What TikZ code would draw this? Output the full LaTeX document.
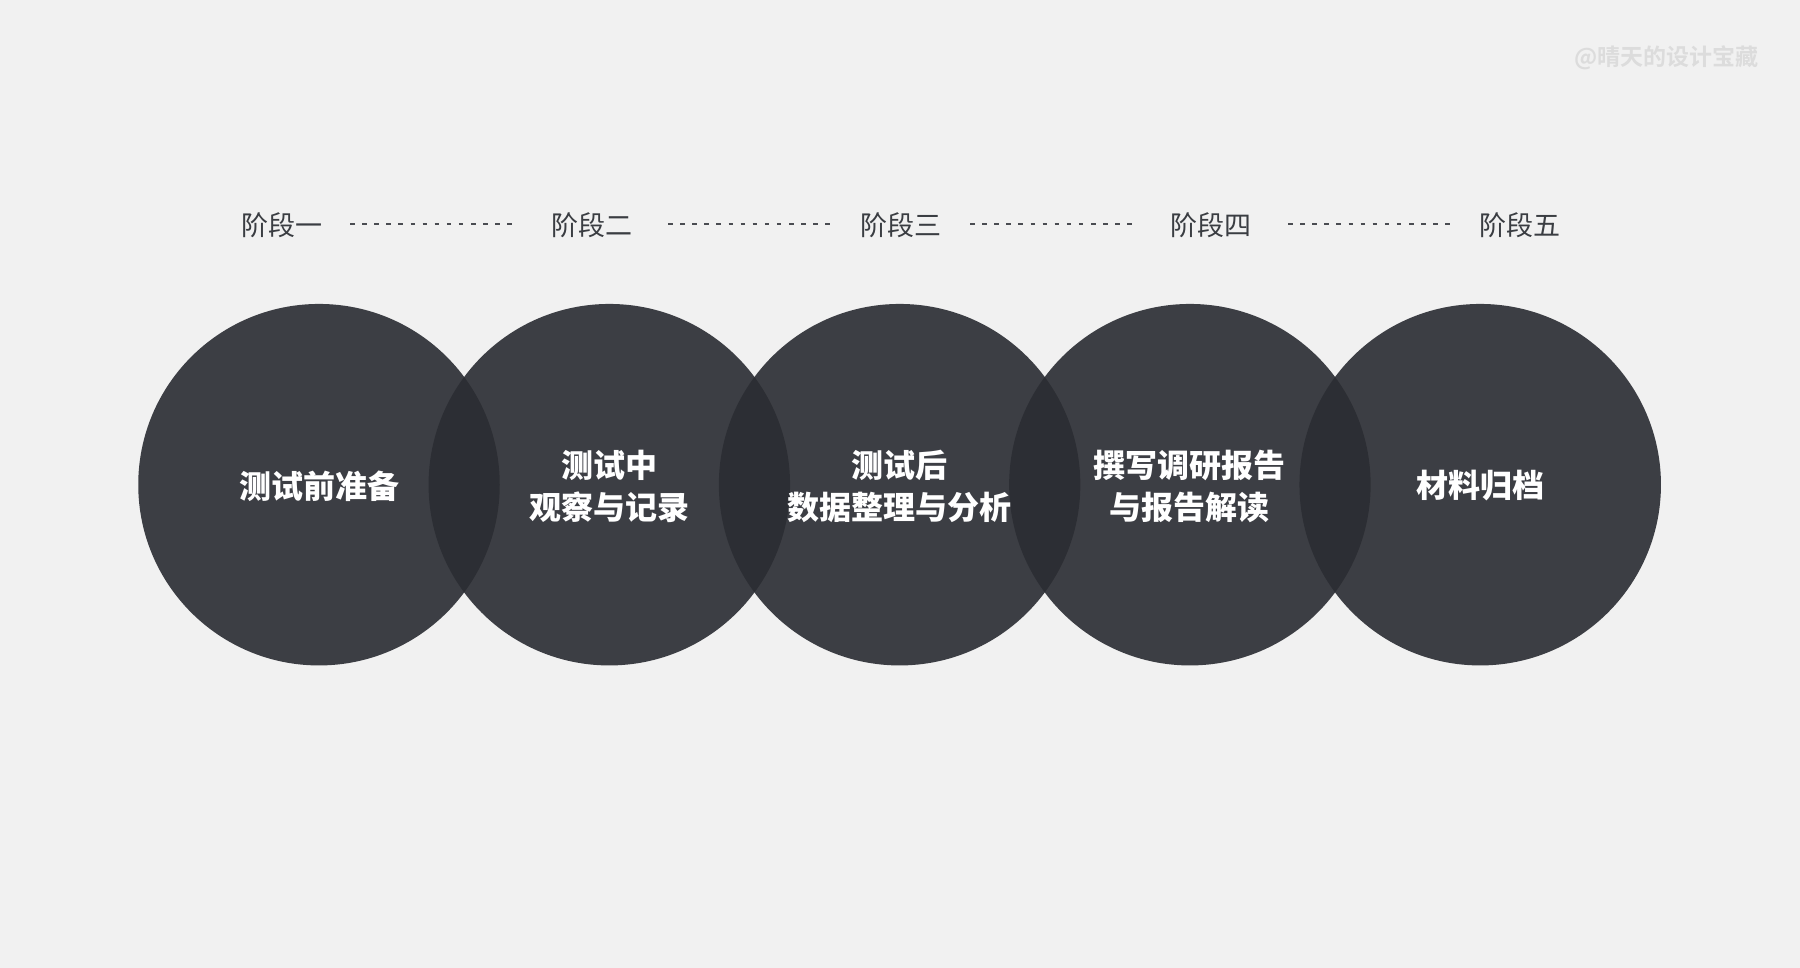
\documentclass[tikz,border=0pt]{standalone}
\usepackage{fontspec}
\IfFontExistsTF{Noto Sans CJK SC Black}
  {\newfontfamily\heavycjk{Noto Sans CJK SC Black}}
  {\newfontfamily\heavycjk{Noto Sans CJK SC}[UprightFont=*,UprightFeatures={FakeBold=2}]}
\newfontfamily\cjk{Noto Sans CJK SC}
\newfontfamily\cjkbold{Noto Sans CJK SC Bold}
\definecolor{bgc}{HTML}{F1F1F1}
\definecolor{circc}{HTML}{2B2D33}
\definecolor{labc}{HTML}{3A3D42}
\definecolor{dotc}{HTML}{4A4C52}
\definecolor{wmc}{HTML}{DCDCDC}
\begin{document}
\begin{tikzpicture}[x=1pt,y=-1pt,
  stagebox/.style={inner sep=0pt,text=labc,font=\cjk\fontsize{27}{32}\selectfont},
  bubble/.style={circle,minimum size=361.5pt,inner sep=0pt,fill=circc,fill opacity=0.91},
  bubtext/.style={inner sep=0pt,text=white,align=center,font=\heavycjk\fontsize{32}{42}\selectfont},
  dotline/.style={draw=dotc,line width=2pt,dash pattern=on 4.5pt off 7.6pt}]
\useasboundingbox[fill=bgc] (0,0) rectangle (1800,968);
% watermark
\node[anchor=east,inner sep=0pt,text=wmc,font=\cjkbold\fontsize{23}{26}\selectfont] (wm) at (1759,58) {@晴天的设计宝藏};
% stage labels
\node[stagebox] (s1) at (282,225) {阶段一};
\node[stagebox] (s2) at (591.5,225) {阶段二};
\node[stagebox] (s3) at (901,225) {阶段三};
\node[stagebox] (s4) at (1210.5,225) {阶段四};
\node[stagebox] (s5) at (1520,225) {阶段五};
% dotted connectors
\coordinate (d1a) at (350,224); \coordinate (d1b) at (512,224);
\coordinate (d2a) at (668,224); \coordinate (d2b) at (830,224);
\coordinate (d3a) at (970,224); \coordinate (d3b) at (1132,224);
\coordinate (d4a) at (1288,224); \coordinate (d4b) at (1450,224);
\draw[dotline] (d1a) -- (d1b);
\draw[dotline] (d2a) -- (d2b);
\draw[dotline] (d3a) -- (d3b);
\draw[dotline] (d4a) -- (d4b);
% circles
\node[bubble] (c1) at (319,484.7) {};
\node[bubble] (c2) at (609.3,484.7) {};
\node[bubble] (c3) at (899.6,484.7) {};
\node[bubble] (c4) at (1189.9,484.7) {};
\node[bubble] (c5) at (1480.2,484.7) {};
% texts
\node[bubtext] (t1) at (319,486) {测试前准备};
\node[bubtext] (t2) at (609.3,486) {测试中\\观察与记录};
\node[bubtext] (t3) at (899.6,486) {测试后\\数据整理与分析};
\node[bubtext] (t4) at (1189.9,486) {撰写调研报告\\与报告解读};
\node[bubtext] (t5) at (1480.2,486) {材料归档};
\end{tikzpicture}
\end{document}
